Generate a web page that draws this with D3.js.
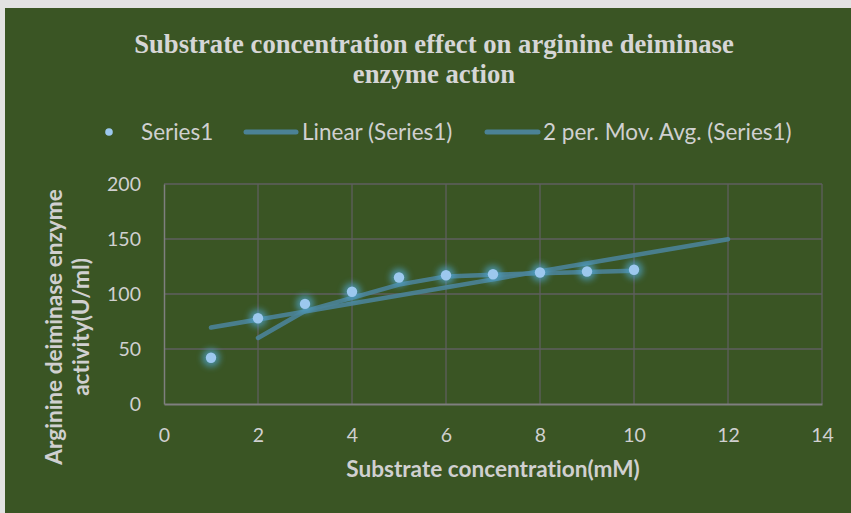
<!DOCTYPE html>
<html><head><meta charset="utf-8">
<script src="https://cdn.jsdelivr.net/npm/d3@7"></script>
<style>html,body{margin:0;padding:0;background:#fff;}svg{display:block;}text{font-variant-ligatures:none;font-feature-settings:"liga" 0;}</style>
</head><body>
<script>
// ---- data ----
const xValues = [1, 2, 3, 4, 5, 6, 7, 8, 9, 10];
const yValues = [42, 78, 91, 102, 115, 117, 118, 119.5, 120.5, 122];
const trendX = [1, 12];
const trendY = [69.5, 149.8];
const movAvgX = [2, 3, 4, 5, 6, 7, 8, 9, 10];
const movAvgY = [60, 84.5, 96.5, 108.5, 116, 117.5, 118.8, 120, 121.2];
const xTicks = [0, 2, 4, 6, 8, 10, 12, 14];
const yTicks = [0, 50, 100, 150, 200];
const titleLines = ["Substrate concentration effect on arginine deiminase", "enzyme action"];
const legendLabels = ["Series1", "Linear (Series1)", "2 per. Mov. Avg. (Series1)"];
const xTitle = "Substrate concentration(mM)";
const yTitleLines = ["Arginine deiminase enzyme", "activity(U/ml)"];

const W = 851, H = 513;
const bg = "#3a5524", textCol = "#d0d0d0", gridCol = "#5f5f5f", lineCol = "#4b8296", markerCol = "#9cc8ee";
const svg = d3.select("body").append("svg").attr("width", W).attr("height", H);

// frame
svg.append("rect").attr("x",0).attr("y",0).attr("width",W).attr("height",H).attr("fill","#e2e2e2");
svg.append("rect").attr("x",5).attr("y",8).attr("width",W-5).attr("height",H-8).attr("fill",bg);

const defs = svg.append("defs");
const f = defs.append("filter").attr("id","glow").attr("x","-100%").attr("y","-100%").attr("width","300%").attr("height","300%");
f.append("feGaussianBlur").attr("stdDeviation",3);

const x = d3.scaleLinear().domain([0,14]).range([164,822]);
const y = d3.scaleLinear().domain([0,200]).range([404,184]);

// grid
const g = svg.append("g");
g.selectAll(".vg").data(xTicks.slice(1)).join("line")
  .attr("x1",d=>x(d)).attr("x2",d=>x(d)).attr("y1",y(200)).attr("y2",y(0))
  .attr("stroke",gridCol).attr("stroke-width",1.3);
g.selectAll(".hg").data(yTicks.slice(1)).join("line")
  .attr("x1",x(0)).attr("x2",x(14)).attr("y1",d=>y(d)).attr("y2",d=>y(d))
  .attr("stroke",gridCol).attr("stroke-width",1.3);
// axes
const xAxis = d3.axisBottom(x).tickValues(xTicks).tickSize(0).tickPadding(0);
const gx = svg.append("g").attr("transform",`translate(0,${y(0)})`).call(xAxis);
gx.select(".domain").attr("stroke","#7f7f7f").attr("stroke-width",1.8);
gx.selectAll("text").attr("y",38).attr("dy",null).attr("fill",textCol)
  .style("font-family","Lato").style("font-size","19.5px");
const yAxis = d3.axisLeft(y).tickValues(yTicks).tickSize(0).tickPadding(0);
const gy = svg.append("g").attr("transform",`translate(${x(0)},0)`).call(yAxis);
gy.select(".domain").attr("stroke","#7f7f7f").attr("stroke-width",1.5);
gy.selectAll("text").attr("x",-23).attr("dy","0.35em").attr("fill",textCol)
  .style("font-family","Lato").style("font-size","19.5px");

// lines
const line = d3.line().x(d=>x(d[0])).y(d=>y(d[1]));
svg.append("path").datum(trendX.map((v,i)=>[v,trendY[i]])).attr("d",line)
  .attr("fill","none").attr("stroke",lineCol).attr("stroke-width",4.5).attr("stroke-linecap","round").attr("opacity",0.92);
svg.append("path").datum(movAvgX.map((v,i)=>[v,movAvgY[i]])).attr("d",line)
  .attr("fill","none").attr("stroke",lineCol).attr("stroke-width",4.5).attr("stroke-linecap","round").attr("stroke-linejoin","round").attr("opacity",0.92);

// markers with glow
const pts = xValues.map((v,i)=>[v,yValues[i]]);
svg.append("g").selectAll("circle").data(pts).join("circle")
  .attr("cx",d=>x(d[0])).attr("cy",d=>y(d[1])).attr("r",9)
  .attr("fill","#4fa6cf").attr("opacity",0.7).attr("filter","url(#glow)");
svg.append("g").selectAll("circle").data(pts).join("circle")
  .attr("cx",d=>x(d[0])).attr("cy",d=>y(d[1])).attr("r",5.2)
  .attr("fill",markerCol);

// title
svg.append("g").selectAll("text").data(titleLines).join("text")
  .attr("x",434).attr("y",(d,i)=>53+i*30).attr("text-anchor","middle")
  .attr("fill","#d6d6d6").style("font-family","Liberation Serif").style("font-weight","bold").style("font-size","26.7px")
  .text(d=>d);

// legend
const lg = svg.append("g").style("font-family","Lato").style("font-size","22.5px").attr("fill",textCol);
lg.append("circle").attr("cx",109).attr("cy",132).attr("r",3.8).attr("fill",markerCol);
lg.append("text").attr("x",141).attr("y",139.5).text(legendLabels[0]);
lg.append("line").attr("x1",246).attr("x2",296).attr("y1",132).attr("y2",132).attr("stroke",lineCol).attr("stroke-width",5).attr("stroke-linecap","round");
lg.append("text").attr("x",302).attr("y",139.5).text(legendLabels[1]);
lg.append("line").attr("x1",487).attr("x2",538).attr("y1",132).attr("y2",132).attr("stroke",lineCol).attr("stroke-width",5).attr("stroke-linecap","round");
lg.append("text").attr("x",543).attr("y",139.5).text(legendLabels[2]);

// axis titles
svg.append("text").attr("x",493).attr("y",477).attr("text-anchor","middle").attr("fill",textCol)
  .style("font-family","Lato").style("font-weight","bold").style("font-size","22.6px").text(xTitle);
svg.append("g").attr("transform","translate(0,327) rotate(-90)").selectAll("text").data(yTitleLines).join("text")
  .attr("x",0).attr("y",(d,i)=>62+i*27).attr("text-anchor","middle").attr("fill",textCol)
  .style("font-family","Lato").style("font-weight","bold").style("font-size","22.6px").text(d=>d);
</script>
</body></html>
